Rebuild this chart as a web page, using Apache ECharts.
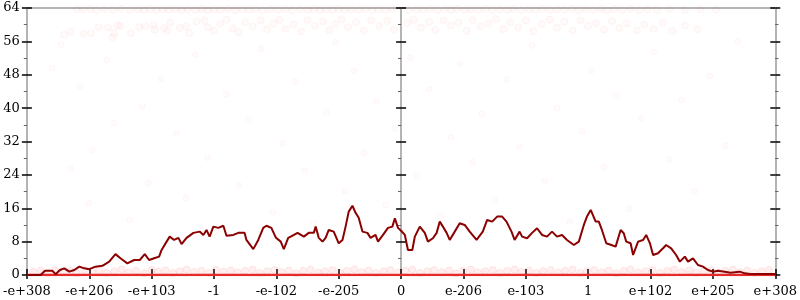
<!DOCTYPE html>
<html>
<head>
<meta charset="utf-8">
<script src="https://cdn.jsdelivr.net/npm/echarts@6/dist/echarts.min.js"></script>
<style>html,body{margin:0;padding:0;background:#fff}#c{width:800px;height:300px}</style>
</head>
<body>
<div id="c"></div>
<script>
const xTickLabels = ['-e+308','-e+206','-e+103','-1','-e-102','-e-205','0','e-206','e-103','1','e+102','e+205','e+308'];
const yMin = 0, yMax = 64, yStep = 8;

const histLine = [[-6.00,0],[-5.78,0],[-5.71,1.0],[-5.59,1.0],[-5.54,0.2],[-5.47,1.2],[-5.40,1.6],[-5.32,0.8],[-5.24,1.2],[-5.16,2.0],[-5.08,1.6],[-5.00,1.4],[-4.90,2.0],[-4.79,2.2],[-4.68,3.2],[-4.58,5.0],[-4.50,4.0],[-4.39,2.8],[-4.28,3.6],[-4.19,3.6],[-4.11,5.0],[-4.04,3.6],[-3.96,4.0],[-3.88,4.4],[-3.84,6.0],[-3.76,8.0],[-3.71,9.2],[-3.64,8.4],[-3.57,8.9],[-3.52,7.4],[-3.44,8.9],[-3.33,10.1],[-3.23,10.4],[-3.17,9.6],[-3.12,10.8],[-3.07,9.2],[-3.01,11.6],[-2.93,11.3],[-2.85,11.8],[-2.80,9.4],[-2.69,9.6],[-2.61,10.1],[-2.51,10.1],[-2.48,8.4],[-2.37,6.2],[-2.29,8.4],[-2.21,11.3],[-2.16,11.8],[-2.08,11.3],[-2.01,9.0],[-1.93,8.0],[-1.88,6.2],[-1.81,8.9],[-1.77,9.2],[-1.66,10.1],[-1.56,9.2],[-1.48,10.1],[-1.40,10.1],[-1.37,11.6],[-1.32,8.9],[-1.26,8.0],[-1.21,8.9],[-1.16,10.8],[-1.08,10.4],[-1.00,7.6],[-0.94,8.4],[-0.89,11.6],[-0.84,15.2],[-0.78,16.6],[-0.73,14.9],[-0.68,13.7],[-0.62,10.4],[-0.54,10.1],[-0.49,8.9],[-0.41,9.6],[-0.37,8.0],[-0.29,9.6],[-0.21,11.3],[-0.14,11.6],[-0.10,13.6],[-0.05,11.3],[0.00,10.6],[0.06,9.6],[0.11,6.0],[0.18,6.0],[0.22,9.2],[0.30,11.6],[0.38,10.1],[0.43,8.0],[0.51,8.8],[0.57,10.1],[0.62,12.8],[0.67,11.6],[0.73,10.1],[0.78,8.4],[0.86,10.4],[0.94,12.4],[1.02,12.0],[1.10,10.4],[1.21,8.4],[1.31,10.4],[1.38,13.2],[1.46,12.8],[1.54,14.0],[1.62,14.0],[1.69,12.8],[1.77,10.4],[1.82,8.4],[1.90,10.4],[1.94,9.2],[2.02,8.8],[2.10,10.1],[2.18,11.2],[2.26,9.6],[2.34,9.2],[2.42,10.4],[2.50,9.2],[2.58,9.6],[2.66,8.4],[2.77,7.2],[2.85,8.0],[2.93,12.0],[2.98,14.0],[3.04,15.6],[3.12,12.8],[3.17,12.8],[3.22,10.8],[3.29,7.6],[3.37,7.2],[3.44,6.8],[3.52,10.8],[3.57,10.0],[3.61,8.0],[3.68,7.6],[3.72,4.8],[3.80,8.0],[3.88,8.4],[3.93,9.6],[3.99,7.6],[4.04,4.8],[4.12,5.2],[4.20,6.4],[4.25,7.2],[4.33,6.4],[4.41,4.8],[4.47,3.2],[4.55,4.4],[4.60,3.2],[4.68,4.0],[4.76,2.4],[4.84,2.0],[4.92,1.2],[5.00,0.8],[5.08,1.0],[5.19,0.8],[5.28,0.55],[5.43,0.8],[5.51,0.4],[5.60,0.24],[5.83,0.24],[6.00,0.24]];

const zeroLine = [[-6,0],[6,0]];

const faintTop = [[-5.2,63.7],[-5.1,63.6],[-4.98,63.8],[-4.88,63.5],[-4.76,63.7],[-4.62,63.6],[-4.5,63.8],[-4.35,63.5],[-4.22,63.7],[-4.12,63.6],[-4.02,63.8],[-3.92,63.5],[-3.82,63.7],[-3.72,63.6],[-3.62,63.8],[-3.52,63.5],[-3.42,63.7],[-3.3,63.6],[-3.2,63.8],[-3.1,63.5],[-3.0,63.7],[-2.9,63.6],[-2.78,63.8],[-2.66,63.5],[-2.55,63.7],[-2.44,63.6],[-2.33,63.8],[-2.22,63.5],[-2.1,63.7],[-1.98,63.6],[-1.86,63.8],[-1.75,63.5],[-1.62,63.7],[-1.5,63.6],[-1.4,63.8],[-1.3,63.5],[-1.2,63.7],[-1.1,63.6],[-1.0,63.8],[-0.9,63.5],[-0.8,63.7],[-0.68,63.6],[-0.58,63.8],[-0.46,63.5],[-0.36,63.7],[-0.25,63.6],[-0.14,63.8],[0.12,63.5],[0.24,63.7],[0.35,63.6],[0.46,63.8],[0.58,63.5],[0.7,63.7],[0.8,63.6],[0.9,63.8],[1.02,63.5],[1.12,63.7],[1.24,63.6],[1.35,63.8],[1.46,63.5],[1.58,63.7],[1.7,63.6],[1.8,63.8],[1.92,63.5],[2.04,63.7],[2.15,63.6],[2.26,63.8],[2.38,63.5],[2.5,63.7],[2.62,63.6],[2.74,63.8],[2.85,63.5],[2.96,63.7],[3.08,63.6],[3.2,63.8],[3.3,63.5],[3.42,63.7],[3.55,63.6],[3.68,63.8],[3.82,63.5],[3.95,63.7],[4.1,63.6],[4.3,63.8],[4.55,63.5],[4.8,63.7],[5.05,63.6]];

const faintHigh = [[-5.4,57.6],[-5.3,58.3],[-5.09,57.8],[-4.97,58.0],[-4.85,59.4],[-4.7,59.3],[-4.55,59.9],[-4.5,59.6],[-4.6,58.0],[-4.63,57.0],[-4.33,58.0],[-4.2,59.4],[-4.1,59.7],[-3.97,59.9],[-3.95,58.8],[-3.8,59.2],[-3.75,58.5],[-3.7,60.5],[-3.55,59.2],[-3.45,59.6],[-3.4,58.0],[-3.28,60.8],[-3.15,61.0],[-3.1,59.4],[-3.0,58.6],[-2.9,60.2],[-2.8,61.2],[-2.7,59.1],[-2.6,58.2],[-2.5,60.6],[-2.38,59.6],[-2.25,61.0],[-2.15,58.9],[-2.05,60.3],[-1.95,61.2],[-1.85,59.0],[-1.72,60.0],[-1.6,58.4],[-1.5,61.1],[-1.38,59.7],[-1.25,60.8],[-1.15,58.7],[-1.05,60.2],[-0.95,61.3],[-0.85,59.4],[-0.72,60.6],[-0.6,58.6],[-0.48,61.0],[-0.35,59.7],[-0.22,60.9],[-0.12,58.8],[0.1,60.4],[0.2,61.2],[0.32,59.3],[0.45,60.7],[0.55,58.7],[0.68,61.0],[0.8,59.8],[0.92,60.5],[1.05,58.5],[1.15,61.1],[1.28,59.6],[1.4,60.3],[1.52,61.3],[1.64,58.9],[1.75,60.6],[1.88,59.4],[2.0,61.0],[2.12,58.4],[2.25,60.2],[2.38,61.2],[2.5,59.3],[2.62,60.7],[2.75,58.6],[2.88,61.0],[3.0,59.7],[3.12,60.4],[3.25,58.8],[3.38,60.9],[3.5,59.2],[3.62,60.3],[3.78,58.6],[3.9,60.0],[4.05,59.0],[4.2,60.5],[4.35,58.4],[4.55,59.8],[4.75,58.9]];

const faintMid = [[-5.6,49.6],[-5.45,55.2],[-5.3,25.5],[-5.15,45.1],[-5.0,17.2],[-4.95,30.0],[-4.72,51.5],[-4.6,36.5],[-4.35,13.1],[-4.15,40.4],[-4.05,22.0],[-3.85,47.0],[-3.6,33.9],[-3.45,18.5],[-3.3,52.8],[-3.1,28.1],[-2.95,10.2],[-2.8,43.3],[-2.6,21.5],[-2.45,37.2],[-2.25,54.3],[-2.05,15.0],[-1.9,31.5],[-1.7,46.4],[-1.55,25.0],[-1.4,12.5],[-1.2,39.0],[-1.05,55.8],[-0.9,20.1],[-0.75,48.9],[-0.6,29.3],[-0.4,41.5],[-0.25,16.8],[-0.1,35.2],[0.15,52.1],[0.25,23.8],[0.45,44.5],[0.62,14.2],[0.8,33.0],[0.95,50.6],[1.15,27.0],[1.3,38.6],[1.5,18.0],[1.7,46.8],[1.9,30.8],[2.1,55.0],[2.3,22.6],[2.5,40.0],[2.7,12.8],[2.9,34.4],[3.05,49.0],[3.25,25.8],[3.45,43.0],[3.65,16.0],[3.85,37.5],[4.05,53.5],[4.3,27.6],[4.5,42.0],[4.7,20.0],[4.95,47.7],[5.2,31.0],[5.4,56.0]];

const faintLow = [[-5.9,0.8],[-5.78,1.1],[-5.66,0.5],[-5.55,1.2],[-5.42,0.7],[-5.3,1.0],[-5.2,0.4],[-5.08,1.2],[-4.95,0.8],[-4.84,1.1],[-4.72,0.5],[-4.6,0.9],[-4.48,1.3],[-4.37,0.6],[-4.25,1.0],[-4.12,0.4],[-4.0,1.2],[-3.9,0.8],[-3.78,1.1],[-3.66,0.5],[-3.55,0.9],[-3.44,1.3],[-3.32,0.7],[-3.2,1.0],[-3.08,0.5],[-2.97,1.2],[-2.85,0.8],[-2.73,1.1],[-2.62,0.6],[-2.5,1.0],[-2.38,1.3],[-2.27,0.5],[-2.15,0.9],[-2.03,1.2],[-1.92,0.7],[-1.8,1.1],[-1.68,0.4],[-1.57,1.0],[-1.45,1.3],[-1.33,0.6],[-1.22,0.9],[-1.1,1.2],[-0.98,0.5],[-0.87,1.0],[-0.75,1.3],[-0.63,0.7],[-0.52,1.1],[-0.4,0.5],[-0.28,0.9],[-0.17,1.2],[-0.05,0.6],[0.07,1.0],[0.18,1.3],[0.3,0.5],[0.42,0.9],[0.53,1.2],[0.65,0.7],[0.77,1.1],[0.88,0.4],[1.0,1.0],[1.12,1.3],[1.23,0.6],[1.35,0.9],[1.47,1.2],[1.58,0.5],[1.7,1.0],[1.82,1.3],[1.93,0.7],[2.05,1.1],[2.17,0.5],[2.28,0.9],[2.4,1.2],[2.52,0.6],[2.63,1.0],[2.75,1.3],[2.87,0.5],[2.98,0.9],[3.1,1.2],[3.22,0.7],[3.33,1.1],[3.45,0.4],[3.57,1.0],[3.68,1.3],[3.8,0.6],[3.92,0.9],[4.03,1.2],[4.15,0.5],[4.27,1.0],[4.38,1.3],[4.5,0.7],[4.62,1.1],[4.73,0.5],[4.85,0.9],[4.97,1.2],[5.08,0.6],[5.2,1.0],[5.32,1.3],[5.43,0.7],[5.55,1.1],[5.67,0.5],[5.78,0.9],[5.9,1.2]];

const FONT = 'DejaVu Serif';
const AXIS_GRAY = '#b4b4b4';

function yAx(opts) {
  const base = {
    type: 'value', min: yMin, max: yMax, interval: yStep,
    splitLine: { show: false },
    axisLine: { show: false, onZero: false },
    axisLabel: { show: false },
    axisTick: { show: true, length: 5, lineStyle: { color: '#000', width: 1.5 } },
    minorTick: { show: true, splitNumber: 2, length: 3, lineStyle: { color: '#666', width: 1 } }
  };
  return Object.assign(base, opts);
}

const yAxes = [
  yAx({ position: 'left', axisLine: { show: true, onZero: false, lineStyle: { color: AXIS_GRAY, width: 2 } },
        axisLabel: { show: true, color: '#000', fontFamily: FONT, fontSize: 13, margin: 7 } }),
  yAx({ position: 'left', axisTick: { show: true, inside: true, length: 5, lineStyle: { color: '#000', width: 1.5 } },
        minorTick: { show: true, splitNumber: 2, length: -3, lineStyle: { color: '#666', width: 1 } } }),
  yAx({ position: 'right', axisLine: { show: true, onZero: false, lineStyle: { color: AXIS_GRAY, width: 2 } } }),
  yAx({ position: 'right', axisTick: { show: true, inside: true, length: 5, lineStyle: { color: '#000', width: 1.5 } },
        minorTick: { show: true, splitNumber: 2, length: -3, lineStyle: { color: '#666', width: 1 } } }),
  yAx({ position: 'left', axisLine: { show: true, onZero: true, onZeroAxisIndex: 0, lineStyle: { color: AXIS_GRAY, width: 2 } } }),
  yAx({ position: 'left', axisLine: { show: false, onZero: true, onZeroAxisIndex: 0 },
        axisTick: { show: true, inside: true, length: 5, lineStyle: { color: '#000', width: 1.5 } },
        minorTick: { show: true, splitNumber: 2, length: -3, lineStyle: { color: '#666', width: 1 } } })
];

const xAxes = [
  { type: 'value', position: 'bottom', min: -6, max: 6, interval: 1,
    splitLine: { show: false },
    axisLine: { show: true, onZero: false, lineStyle: { color: AXIS_GRAY, width: 2 } },
    axisTick: { show: true, inside: true, length: 6, lineStyle: { color: '#000', width: 1.5 } },
    axisLabel: { show: true, color: '#000', fontFamily: FONT, fontSize: 13, margin: 10,
      formatter: function (v) { return xTickLabels[Math.round(v + 6)]; } } },
  { type: 'value', position: 'bottom', min: -6, max: 6, interval: 1,
    splitLine: { show: false },
    axisLine: { show: false, onZero: false },
    axisTick: { show: true, length: 4, lineStyle: { color: '#000', width: 1.5 } },
    axisLabel: { show: false } },
  { type: 'value', position: 'top', min: -6, max: 6, interval: 1,
    splitLine: { show: false },
    axisLine: { show: true, onZero: false, lineStyle: { color: AXIS_GRAY, width: 2 } },
    axisTick: { show: false }, axisLabel: { show: false } }
];

const faintStyle = { color: 'rgba(255,70,70,0.035)', borderColor: 'rgba(255,70,70,0.07)', borderWidth: 1 };

const chart = echarts.init(document.getElementById('c'), null, { renderer: 'canvas' });
chart.setOption({
  animation: false,
  backgroundColor: '#fff',
  grid: { left: 24, right: 22, top: 8, bottom: 25, containLabel: false },
  xAxis: xAxes,
  yAxis: yAxes,
  series: [
    { type: 'scatter', data: faintTop, symbolSize: 7, itemStyle: faintStyle, silent: true, z: 1 },
    { type: 'scatter', data: faintHigh, symbolSize: 7, itemStyle: faintStyle, silent: true, z: 1 },
    { type: 'scatter', data: faintMid, symbolSize: 6, itemStyle: { color: 'rgba(255,70,70,0.025)', borderColor: 'rgba(255,70,70,0.05)', borderWidth: 1 }, silent: true, z: 1 },
    { type: 'scatter', data: faintLow, symbolSize: 7, itemStyle: { color: 'rgba(255,60,60,0.1)', borderColor: 'rgba(255,60,60,0.12)', borderWidth: 1 }, silent: true, z: 1 },
    { type: 'line', data: zeroLine, showSymbol: false, lineStyle: { color: '#e42a2a', width: 2.5 }, silent: true, z: 3 },
    { type: 'line', data: histLine, showSymbol: false, lineStyle: { color: '#8b0000', width: 2 }, silent: true, z: 4 }
  ]
});
</script>
</body>
</html>
